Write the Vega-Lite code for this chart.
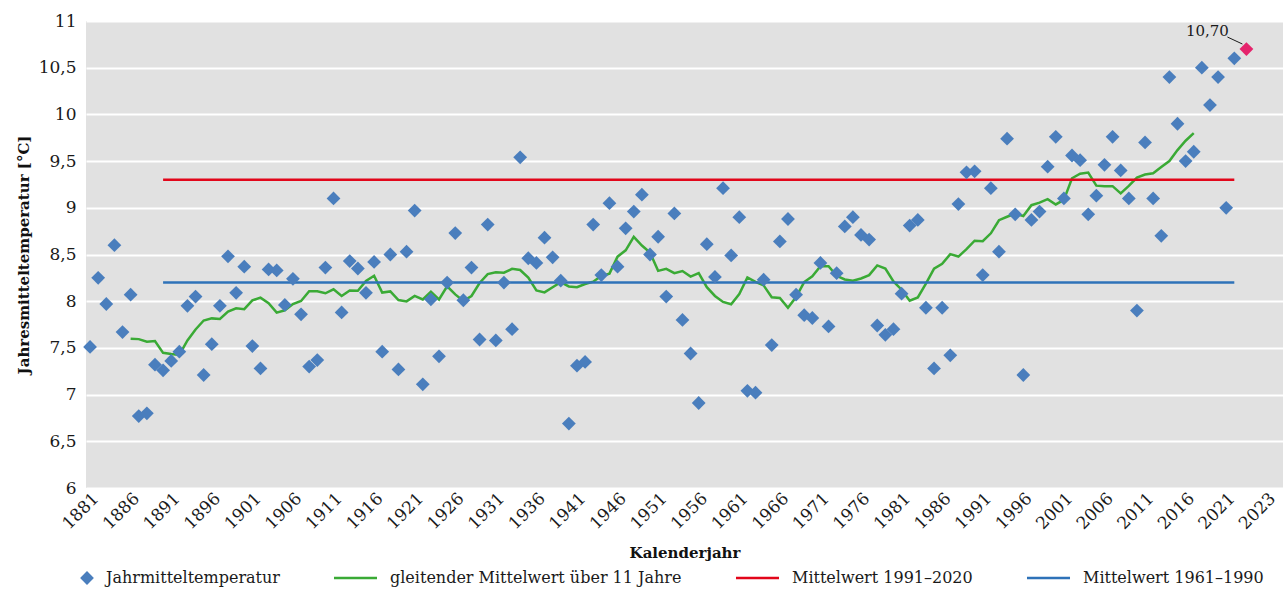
{
  "$schema": "https://vega.github.io/schema/vega-lite/v6.json",
  "width": 1197,
  "height": 467,
  "autosize": {"type": "none"},
  "padding": {"left": 86, "top": 21, "right": 0, "bottom": 102},
  "background": "white",
  "config": {
    "locale": {"number": {"decimal": ",", "thousands": ".", "grouping": [3], "currency": ["", " €"]}},
    "font": "DejaVu Serif",
    "view": {"fill": "#e1e1e1", "stroke": null},
    "axis": {
      "labelFont": "DejaVu Serif", "labelFontSize": 17, "labelColor": "#1a1a1a",
      "titleFont": "DejaVu Serif", "titleFontSize": 15, "titleFontWeight": "bold", "titleColor": "#111111",
      "domain": false, "ticks": false
    },
    "legend": {
      "orient": "none", "legendX": -6, "legendY": 549,
      "direction": "horizontal", "title": null, "labelLimit": 0,
      "labelFont": "DejaVu Serif", "labelFontSize": 16, "labelColor": "#1a1a1a",
      "symbolSize": 1850, "labelOffset": 13, "columnPadding": 48
    }
  },
  "datasets": {
    "temps": [
      {"year":1881,"t":7.51},{"year":1882,"t":8.25},{"year":1883,"t":7.97},{"year":1884,"t":8.60},{"year":1885,"t":7.67},
      {"year":1886,"t":8.07},{"year":1887,"t":6.77},{"year":1888,"t":6.80},{"year":1889,"t":7.32},{"year":1890,"t":7.26},
      {"year":1891,"t":7.36},{"year":1892,"t":7.46},{"year":1893,"t":7.95},{"year":1894,"t":8.05},{"year":1895,"t":7.21},
      {"year":1896,"t":7.54},{"year":1897,"t":7.95},{"year":1898,"t":8.48},{"year":1899,"t":8.09},{"year":1900,"t":8.37},
      {"year":1901,"t":7.52},{"year":1902,"t":7.28},{"year":1903,"t":8.34},{"year":1904,"t":8.33},{"year":1905,"t":7.96},
      {"year":1906,"t":8.24},{"year":1907,"t":7.86},{"year":1908,"t":7.30},{"year":1909,"t":7.37},{"year":1910,"t":8.36},
      {"year":1911,"t":9.10},{"year":1912,"t":7.88},{"year":1913,"t":8.43},{"year":1914,"t":8.35},{"year":1915,"t":8.09},
      {"year":1916,"t":8.42},{"year":1917,"t":7.46},{"year":1918,"t":8.50},{"year":1919,"t":7.27},{"year":1920,"t":8.53},
      {"year":1921,"t":8.97},{"year":1922,"t":7.11},{"year":1923,"t":8.02},{"year":1924,"t":7.41},{"year":1925,"t":8.20},
      {"year":1926,"t":8.73},{"year":1927,"t":8.01},{"year":1928,"t":8.36},{"year":1929,"t":7.59},{"year":1930,"t":8.82},
      {"year":1931,"t":7.58},{"year":1932,"t":8.20},{"year":1933,"t":7.70},{"year":1934,"t":9.54},{"year":1935,"t":8.46},
      {"year":1936,"t":8.41},{"year":1937,"t":8.68},{"year":1938,"t":8.47},{"year":1939,"t":8.22},{"year":1940,"t":6.69},
      {"year":1941,"t":7.31},{"year":1942,"t":7.35},{"year":1943,"t":8.82},{"year":1944,"t":8.28},{"year":1945,"t":9.05},
      {"year":1946,"t":8.37},{"year":1947,"t":8.78},{"year":1948,"t":8.96},{"year":1949,"t":9.14},{"year":1950,"t":8.50},
      {"year":1951,"t":8.69},{"year":1952,"t":8.05},{"year":1953,"t":8.94},{"year":1954,"t":7.80},{"year":1955,"t":7.44},
      {"year":1956,"t":6.91},{"year":1957,"t":8.61},{"year":1958,"t":8.26},{"year":1959,"t":9.21},{"year":1960,"t":8.49},
      {"year":1961,"t":8.90},{"year":1962,"t":7.04},{"year":1963,"t":7.02},{"year":1964,"t":8.23},{"year":1965,"t":7.53},
      {"year":1966,"t":8.64},{"year":1967,"t":8.88},{"year":1968,"t":8.07},{"year":1969,"t":7.85},{"year":1970,"t":7.82},
      {"year":1971,"t":8.41},{"year":1972,"t":7.73},{"year":1973,"t":8.30},{"year":1974,"t":8.80},{"year":1975,"t":8.90},
      {"year":1976,"t":8.71},{"year":1977,"t":8.66},{"year":1978,"t":7.74},{"year":1979,"t":7.64},{"year":1980,"t":7.70},
      {"year":1981,"t":8.08},{"year":1982,"t":8.81},{"year":1983,"t":8.87},{"year":1984,"t":7.93},{"year":1985,"t":7.28},
      {"year":1986,"t":7.93},{"year":1987,"t":7.42},{"year":1988,"t":9.04},{"year":1989,"t":9.38},{"year":1990,"t":9.39},
      {"year":1991,"t":8.28},{"year":1992,"t":9.21},{"year":1993,"t":8.53},{"year":1994,"t":9.74},{"year":1995,"t":8.93},
      {"year":1996,"t":7.21},{"year":1997,"t":8.87},{"year":1998,"t":8.96},{"year":1999,"t":9.44},{"year":2000,"t":9.76},
      {"year":2001,"t":9.10},{"year":2002,"t":9.56},{"year":2003,"t":9.51},{"year":2004,"t":8.93},{"year":2005,"t":9.13},
      {"year":2006,"t":9.46},{"year":2007,"t":9.76},{"year":2008,"t":9.40},{"year":2009,"t":9.10},{"year":2010,"t":7.90},
      {"year":2011,"t":9.70},{"year":2012,"t":9.10},{"year":2013,"t":8.70},{"year":2014,"t":10.40},{"year":2015,"t":9.90},
      {"year":2016,"t":9.50},{"year":2017,"t":9.60},{"year":2018,"t":10.50},{"year":2019,"t":10.10},{"year":2020,"t":10.40},
      {"year":2021,"t":9.00},{"year":2022,"t":10.60},{"year":2023,"t":10.70}
    ],
    "ma": [
      {"year":1886,"m":7.598},{"year":1887,"m":7.594},{"year":1888,"m":7.566},{"year":1889,"m":7.574},{"year":1890,"m":7.447},
      {"year":1891,"m":7.435},{"year":1892,"m":7.425},{"year":1893,"m":7.580},{"year":1894,"m":7.697},{"year":1895,"m":7.793},
      {"year":1896,"m":7.816},{"year":1897,"m":7.809},{"year":1898,"m":7.889},{"year":1899,"m":7.924},{"year":1900,"m":7.915},
      {"year":1901,"m":8.009},{"year":1902,"m":8.038},{"year":1903,"m":7.979},{"year":1904,"m":7.878},{"year":1905,"m":7.903},
      {"year":1906,"m":7.969},{"year":1907,"m":8.002},{"year":1908,"m":8.106},{"year":1909,"m":8.107},{"year":1910,"m":8.085},
      {"year":1911,"m":8.127},{"year":1912,"m":8.056},{"year":1913,"m":8.115},{"year":1914,"m":8.112},{"year":1915,"m":8.217},
      {"year":1916,"m":8.273},{"year":1917,"m":8.092},{"year":1918,"m":8.105},{"year":1919,"m":8.012},{"year":1920,"m":7.998},
      {"year":1921,"m":8.056},{"year":1922,"m":8.019},{"year":1923,"m":8.101},{"year":1924,"m":8.018},{"year":1925,"m":8.159},
      {"year":1926,"m":8.073},{"year":1927,"m":8.003},{"year":1928,"m":8.056},{"year":1929,"m":8.195},{"year":1930,"m":8.290},
      {"year":1931,"m":8.309},{"year":1932,"m":8.305},{"year":1933,"m":8.346},{"year":1934,"m":8.334},{"year":1935,"m":8.252},
      {"year":1936,"m":8.115},{"year":1937,"m":8.094},{"year":1938,"m":8.150},{"year":1939,"m":8.203},{"year":1940,"m":8.158},
      {"year":1941,"m":8.150},{"year":1942,"m":8.184},{"year":1943,"m":8.209},{"year":1944,"m":8.270},{"year":1945,"m":8.295},
      {"year":1946,"m":8.477},{"year":1947,"m":8.545},{"year":1948,"m":8.689},{"year":1949,"m":8.596},{"year":1950,"m":8.520},
      {"year":1951,"m":8.325},{"year":1952,"m":8.347},{"year":1953,"m":8.300},{"year":1954,"m":8.323},{"year":1955,"m":8.264},
      {"year":1956,"m":8.300},{"year":1957,"m":8.150},{"year":1958,"m":8.056},{"year":1959,"m":7.992},{"year":1960,"m":7.967},
      {"year":1961,"m":8.076},{"year":1962,"m":8.255},{"year":1963,"m":8.206},{"year":1964,"m":8.169},{"year":1965,"m":8.043},
      {"year":1966,"m":8.035},{"year":1967,"m":7.929},{"year":1968,"m":8.044},{"year":1969,"m":8.205},{"year":1970,"m":8.266},
      {"year":1971,"m":8.374},{"year":1972,"m":8.375},{"year":1973,"m":8.272},{"year":1974,"m":8.233},{"year":1975,"m":8.219},
      {"year":1976,"m":8.243},{"year":1977,"m":8.279},{"year":1978,"m":8.383},{"year":1979,"m":8.349},{"year":1980,"m":8.211},
      {"year":1981,"m":8.123},{"year":1982,"m":8.005},{"year":1983,"m":8.040},{"year":1984,"m":8.189},{"year":1985,"m":8.348},
      {"year":1986,"m":8.401},{"year":1987,"m":8.504},{"year":1988,"m":8.478},{"year":1989,"m":8.557},{"year":1990,"m":8.648},
      {"year":1991,"m":8.642},{"year":1992,"m":8.727},{"year":1993,"m":8.867},{"year":1994,"m":8.904},{"year":1995,"m":8.938},
      {"year":1996,"m":8.912},{"year":1997,"m":9.028},{"year":1998,"m":9.055},{"year":1999,"m":9.092},{"year":2000,"m":9.036},
      {"year":2001,"m":9.085},{"year":2002,"m":9.316},{"year":2003,"m":9.365},{"year":2004,"m":9.377},{"year":2005,"m":9.237},
      {"year":2006,"m":9.232},{"year":2007,"m":9.232},{"year":2008,"m":9.154},{"year":2009,"m":9.235},{"year":2010,"m":9.323},
      {"year":2011,"m":9.356},{"year":2012,"m":9.369},{"year":2013,"m":9.436},{"year":2014,"m":9.500},{"year":2015,"m":9.618},
      {"year":2016,"m":9.718},{"year":2017,"m":9.800}
    ],
    "means": [
      {"name": "Mittelwert 1991–2020", "from": 1890, "to": 2022, "v": 9.3},
      {"name": "Mittelwert 1961–1990", "from": 1890, "to": 2022, "v": 8.2}
    ]
  },
  "layer": [
    {
      "data": {"name": "ma"},
      "mark": {"type": "line", "strokeWidth": 2.5},
      "encoding": {
        "x": {
          "field": "year", "type": "quantitative",
          "scale": {"domain": [1880.5, 2028], "nice": false, "zero": false},
          "axis": {
            "values": [1881,1886,1891,1896,1901,1906,1911,1916,1921,1926,1931,1936,1941,1946,1951,1956,1961,1966,1971,1976,1981,1986,1991,1996,2001,2006,2011,2016,2021,2026],
            "labelExpr": "datum.value == 2026 ? '2023' : format(datum.value, 'd')",
            "labelAngle": -45, "labelAlign": "right", "labelBaseline": "top", "labelPadding": 2,
            "labelOverlap": false, "labelFlush": false, "labelBound": false,
            "grid": false, "title": "Kalenderjahr",
            "titleX": 598.5, "titleY": 69, "titleBaseline": "alphabetic", "titleAlign": "center"
          }
        },
        "y": {
          "field": "m", "type": "quantitative",
          "scale": {"domain": [6, 11], "nice": false, "zero": false},
          "axis": {
            "values": [6, 6.5, 7, 7.5, 8, 8.5, 9, 9.5, 10, 10.5, 11],
            "format": ".1~f", "labelPadding": 10, "labelOverlap": false, "labelFlush": false,
            "grid": true, "gridColor": "#ffffff", "gridWidth": 2,
            "title": "Jahresmitteltemperatur [°C]",
            "titleX": -63, "titleY": 233.5, "titleAngle": -90, "titleAlign": "center", "titleBaseline": "middle"
          }
        },
        "color": {
          "datum": "gleitender Mittelwert über 11 Jahre", "type": "nominal",
          "scale": {
            "domain": ["Jahrmitteltemperatur", "gleitender Mittelwert über 11 Jahre", "Mittelwert 1991–2020", "Mittelwert 1961–1990"],
            "range": ["#4a7ebd", "#3aaa35", "#e2061a", "#2e72b8"]
          },
          "legend": {
            "title": null,
            "encode": {
              "symbols": {
                "update": {
                  "x": {"signal": "datum.value === 'Jahrmitteltemperatur' ? 7 : 21.5"},
                  "shape": {"signal": "datum.value === 'Jahrmitteltemperatur' ? 'diamond' : 'stroke'"},
                  "size": {"signal": "datum.value === 'Jahrmitteltemperatur' ? 190 : 1850"},
                  "fill": {"scale": "color", "field": "value"},
                  "stroke": {"scale": "color", "field": "value"},
                  "strokeWidth": {"signal": "datum.value === 'Jahrmitteltemperatur' ? 0 : 2.5"},
                  "opacity": {"value": 1}
                }
              },
              "labels": {
                "update": {
                  "x": {"signal": "datum.value === 'Jahrmitteltemperatur' ? 26 : 56"}
                }
              }
            }
          }
        }
      }
    },
    {
      "data": {"name": "means"},
      "mark": {"type": "rule", "strokeWidth": 2.5},
      "encoding": {
        "x": {"field": "from", "type": "quantitative"},
        "x2": {"field": "to"},
        "y": {"field": "v", "type": "quantitative"},
        "color": {
          "field": "name", "type": "nominal",
          "legend": {
            "title": null,
            "encode": {
              "symbols": {
                "update": {
                  "x": {"signal": "datum.value === 'Jahrmitteltemperatur' ? 7 : 21.5"},
                  "shape": {"signal": "datum.value === 'Jahrmitteltemperatur' ? 'diamond' : 'stroke'"},
                  "size": {"signal": "datum.value === 'Jahrmitteltemperatur' ? 190 : 1850"},
                  "fill": {"scale": "color", "field": "value"},
                  "stroke": {"scale": "color", "field": "value"},
                  "strokeWidth": {"signal": "datum.value === 'Jahrmitteltemperatur' ? 0 : 2.5"},
                  "opacity": {"value": 1}
                }
              },
              "labels": {
                "update": {
                  "x": {"signal": "datum.value === 'Jahrmitteltemperatur' ? 26 : 56"}
                }
              }
            }
          }
        }
      }
    },
    {
      "data": {"name": "temps"},
      "transform": [{"filter": "datum.year < 2023"}],
      "mark": {"type": "point", "shape": "diamond", "filled": true, "size": 190, "opacity": 1},
      "encoding": {
        "x": {"field": "year", "type": "quantitative"},
        "y": {"field": "t", "type": "quantitative"},
        "color": {
          "datum": "Jahrmitteltemperatur", "type": "nominal",
          "legend": {
            "title": null,
            "encode": {
              "symbols": {
                "update": {
                  "x": {"signal": "datum.value === 'Jahrmitteltemperatur' ? 7 : 21.5"},
                  "shape": {"signal": "datum.value === 'Jahrmitteltemperatur' ? 'diamond' : 'stroke'"},
                  "size": {"signal": "datum.value === 'Jahrmitteltemperatur' ? 190 : 1850"},
                  "fill": {"scale": "color", "field": "value"},
                  "stroke": {"scale": "color", "field": "value"},
                  "strokeWidth": {"signal": "datum.value === 'Jahrmitteltemperatur' ? 0 : 2.5"},
                  "opacity": {"value": 1}
                }
              },
              "labels": {
                "update": {
                  "x": {"signal": "datum.value === 'Jahrmitteltemperatur' ? 26 : 56"}
                }
              }
            }
          }
        }
      }
    },
    {
      "data": {"name": "temps"},
      "transform": [{"filter": "datum.year == 2023"}],
      "mark": {"type": "rule", "color": "#1a1a1a", "strokeWidth": 1, "xOffset": -15, "yOffset": -12, "x2Offset": 0, "y2Offset": -5},
      "encoding": {
        "x": {"field": "year", "type": "quantitative"},
        "x2": {"field": "year"},
        "y": {"field": "t", "type": "quantitative"},
        "y2": {"field": "t"}
      }
    },
    {
      "data": {"name": "temps"},
      "transform": [{"filter": "datum.year == 2023"}],
      "mark": {"type": "point", "shape": "diamond", "filled": true, "size": 190, "opacity": 1, "color": "#e5246c", "xOffset": 4},
      "encoding": {
        "x": {"field": "year", "type": "quantitative"},
        "y": {"field": "t", "type": "quantitative"}
      }
    },
    {
      "data": {"name": "temps"},
      "transform": [{"filter": "datum.year == 2023"}],
      "mark": {"type": "text", "font": "DejaVu Serif", "fontSize": 15, "color": "#1a1a1a", "align": "center", "baseline": "middle", "dx": -35, "dy": -18},
      "encoding": {
        "x": {"field": "year", "type": "quantitative"},
        "y": {"field": "t", "type": "quantitative"},
        "text": {"field": "t", "type": "quantitative", "format": ".2f"}
      }
    }
  ]
}
